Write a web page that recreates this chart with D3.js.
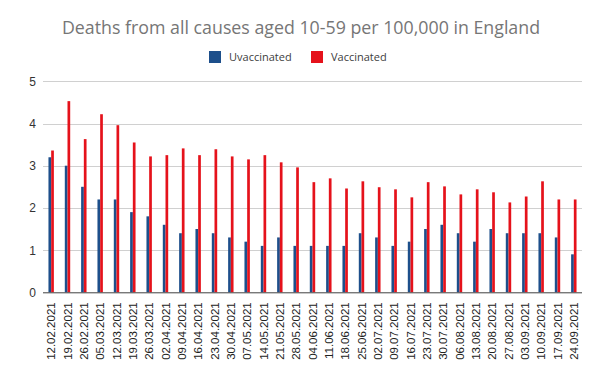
<!DOCTYPE html>
<html>
<head>
<meta charset="utf-8">
<script src="https://cdn.jsdelivr.net/npm/d3@7"></script>
<style>
  body { margin: 0; background: #fff; }
  svg { display: block; }
</style>
</head>
<body>
<svg width="600" height="371"></svg>
<script>
// weekly dates
var weeks = ['12.02.2021','19.02.2021','26.02.2021','05.03.2021','12.03.2021','19.03.2021','26.03.2021',
  '02.04.2021','09.04.2021','16.04.2021','23.04.2021','30.04.2021','07.05.2021','14.05.2021','21.05.2021',
  '28.05.2021','04.06.2021','11.06.2021','18.06.2021','25.06.2021','02.07.2021','09.07.2021','16.07.2021',
  '23.07.2021','30.07.2021','06.08.2021','13.08.2021','20.08.2021','27.08.2021','03.09.2021','10.09.2021',
  '17.09.2021','24.09.2021'];
var unvaccinated = [3.2, 3.0, 2.5, 2.2, 2.2, 1.9, 1.8, 1.6, 1.4, 1.5, 1.4, 1.3, 1.2, 1.1, 1.3, 1.1, 1.1,
  1.1, 1.1, 1.4, 1.3, 1.1, 1.2, 1.5, 1.6, 1.4, 1.2, 1.5, 1.4, 1.4, 1.4, 1.3, 0.9];
var vaccinated = [3.36, 4.53, 3.63, 4.22, 3.96, 3.55, 3.22, 3.25, 3.41, 3.25, 3.39, 3.22, 3.15, 3.25, 3.08,
  2.96, 2.61, 2.70, 2.46, 2.63, 2.49, 2.44, 2.25, 2.61, 2.51, 2.32, 2.44, 2.37, 2.13, 2.27, 2.63, 2.2, 2.2];
var yTicks = [0, 1, 2, 3, 4, 5];
var seriesNames = ['Uvaccinated', 'Vaccinated'];
var colors = ['#1d4f8b', '#e5121b'];

var svg = d3.select('svg');
var plotLeft = 43, plotRight = 582, plotTop = 81.3, plotBottom = 292.3;

var x = d3.scaleBand().domain(weeks).range([plotLeft, plotRight]).padding(0);
var y = d3.scaleLinear().domain([0, 5]).range([plotBottom, plotTop]);
var barW = 2.7;

// title
svg.append('text')
    .attr('x', 301).attr('y', 34)
    .attr('text-anchor', 'middle')
    .style('font-family', '"Open Sans", sans-serif')
    .style('font-size', '17.8px')
    .style('fill', '#767676')
    .text('Deaths from all causes aged 10-59 per 100,000 in England');

// legend
var legend = svg.append('g');
var legX = [209, 311];
seriesNames.forEach(function(name, i) {
  legend.append('rect')
      .attr('x', legX[i]).attr('y', 51)
      .attr('width', 12).attr('height', 12)
      .attr('fill', colors[i]);
  legend.append('text')
      .attr('x', legX[i] + 20).attr('y', 60.5)
      .style('font-family', '"Open Sans", sans-serif')
      .style('font-size', '11px')
      .style('fill', '#404040')
      .text(name);
});

// gridlines
svg.append('g')
  .selectAll('line')
  .data(yTicks.filter(function(d) { return d > 0; }))
  .enter().append('line')
    .attr('x1', plotLeft).attr('x2', plotRight)
    .attr('y1', function(d) { return Math.round(y(d)) + 0.5; })
    .attr('y2', function(d) { return Math.round(y(d)) + 0.5; })
    .attr('stroke', '#d0d0d0')
    .attr('stroke-width', 1);

// y labels
svg.append('g')
  .selectAll('text')
  .data(yTicks)
  .enter().append('text')
    .attr('x', 36)
    .attr('y', function(d) { return y(d) + 4.5; })
    .attr('text-anchor', 'end')
    .style('font-family', '"Liberation Sans", Arial, sans-serif')
    .style('font-size', '12px')
    .style('fill', '#333')
    .text(function(d) { return d; });

// bars
[unvaccinated, vaccinated].forEach(function(vals, s) {
  svg.append('g')
    .selectAll('rect')
    .data(vals)
    .enter().append('rect')
      .attr('x', function(d, i) { return x(weeks[i]) + x.bandwidth() / 2 - barW + s * barW; })
      .attr('y', function(d) { return y(d); })
      .attr('width', barW)
      .attr('height', function(d) { return plotBottom - y(d); })
      .attr('fill', colors[s]);
});

// x axis line
svg.append('line')
    .attr('x1', plotLeft).attr('x2', plotRight)
    .attr('y1', plotBottom + 0.5).attr('y2', plotBottom + 0.5)
    .attr('stroke', '#404040')
    .attr('stroke-width', 1);

// x labels
svg.append('g')
  .selectAll('text')
  .data(weeks)
  .enter().append('text')
    .attr('transform', function(d) {
      return 'translate(' + (x(d) + x.bandwidth() / 2 + 4) + ',' + (plotBottom + 10) + ') rotate(-90)';
    })
    .attr('text-anchor', 'end')
    .style('font-family', '"Liberation Sans", Arial, sans-serif')
    .style('font-size', '11.5px')
    .style('fill', '#222')
    .text(function(d) { return d; });
</script>
</body>
</html>
